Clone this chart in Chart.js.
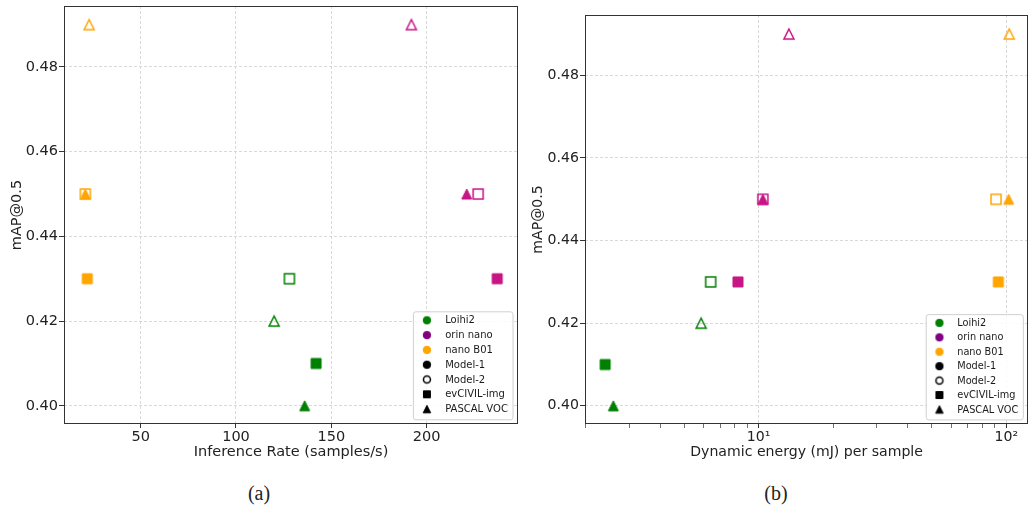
<!DOCTYPE html>
<html><head><meta charset="utf-8">
<script src="https://cdn.jsdelivr.net/npm/chart.js@4.4.1/dist/chart.umd.min.js"></script>
<style>
html,body{margin:0;padding:0;background:#fff;overflow:hidden;width:1028px;height:510px;}
#wrap{position:relative;width:1028px;height:510px;overflow:hidden;}
canvas{position:absolute;top:0;}
#c1{left:0;}
#c2{left:520px;}
.sub{position:absolute;top:481px;font-family:"Liberation Serif","DejaVu Serif",serif;font-size:20px;color:#222;transform:translateX(-50%);line-height:24px;}
</style></head><body>
<div id="wrap">
<canvas id="c1" width="522" height="470" style="width:522px;height:470px"></canvas>
<canvas id="c2" width="510" height="470" style="width:510px;height:470px"></canvas>
<div class="sub" style="left:259px">(a)</div>
<div class="sub" style="left:776px">(b)</div>
</div>
<script>
// ---- categories ----
const devices = ['Loihi2', 'orin nano', 'nano B01'];
const deviceColors = ['#008000', '#C71585', '#FFA500'];
const legendDeviceColors = ['#008000', '#800080', '#FFA500'];
const models = ['Model-1', 'Model-2'];
const dataNames = ['evCIVIL-img', 'PASCAL VOC'];

// ---- series (per device: Loihi2, orin nano, nano B01) ----
const rateM1Ev  = [142, 237, 22];
const rateM1Voc = [136, 221, 21];
const rateM2Ev  = [128, 227, 21];
const rateM2Voc = [120, 192, 23];

const energyM1Ev  = [2.40, 8.25, 92.9];
const energyM1Voc = [2.59, 10.4, 102.2];
const energyM2Ev  = [6.4, 10.4, 90.9];
const energyM2Voc = [5.86, 13.25, 102.8];

const mapM1Ev  = [0.41, 0.43, 0.43];
const mapM1Voc = [0.40, 0.45, 0.45];
const mapM2Ev  = [0.43, 0.45, 0.45];
const mapM2Voc = [0.42, 0.49, 0.49];

// ---- ticks ----
const rateTicks = [50, 100, 150, 200];
const mapTicks = [0.40, 0.42, 0.44, 0.46, 0.48];
const energyTicks = [2,3,4,5,6,7,8,9,10,20,30,40,50,60,70,80,90,100];
const energyMajorTicks = [10, 100];
const energyMajorLabels = ['10\u00B9', '10\u00B2'];

function marker(shape, color, filled, size, lw) {
  const S = 20, c = document.createElement('canvas');
  c.width = S; c.height = S;
  const g = c.getContext('2d');
  const h = size / 2, m = S / 2;
  g.beginPath();
  if (shape === 'square') g.rect(m - h, m - h, size, size);
  else if (shape === 'triangle') { g.moveTo(m, m - h); g.lineTo(m + h, m + h); g.lineTo(m - h, m + h); g.closePath(); }
  else g.arc(m, m, h, 0, Math.PI * 2);
  g.lineJoin = 'miter'; g.lineWidth = lw; g.strokeStyle = color;
  if (filled) { g.fillStyle = color; g.fill(); }
  g.stroke();
  return c;
}

function buildDatasets(xs, ys) {
  const out = [];
  devices.forEach((dev, d) => {
    models.forEach((mod, mi) => {
      dataNames.forEach((dn, di) => {
        const shape = di === 0 ? 'square' : 'triangle';
        const filled = mi === 0;
        out.push({
          label: dev + ' ' + mod + ' ' + dn,
          data: [{ x: xs[mi][di][d], y: ys[mi][di][d] }],
          pointStyle: marker(shape, deviceColors[d], filled, 10, filled ? 1 : 1.5),
          pointRadius: 6,
          showLine: false
        });
      });
    });
  });
  return out;
}

const framePlugin = {
  id: 'frame',
  afterDatasetsDraw(chart) {
    const a = chart.chartArea, ctx = chart.ctx;
    ctx.save();
    ctx.strokeStyle = '#333'; ctx.lineWidth = 1;
    const l = Math.round(a.left) + 0.5, t = Math.round(a.top) + 0.5;
    const r = Math.round(a.right) - 0.5, b = Math.round(a.bottom) - 0.5;
    ctx.strokeRect(l, t, r - l, b - t);
    ctx.restore();
  }
};

const legendPlugin = {
  id: 'inlegend',
  afterDraw(chart, args, o) {
    const s = o.scale || 1;
    const a = chart.chartArea, ctx = chart.ctx;
    const w = 99.6 * s, h = 108 * s;
    const x0 = a.right - 5.5 * s - w, y0 = a.bottom - 4.7 * s - h;
    ctx.save();
    ctx.beginPath();
    if (ctx.roundRect) ctx.roundRect(x0 + 0.5, y0 + 0.5, w, h, 2.5); else ctx.rect(x0 + 0.5, y0 + 0.5, w, h);
    ctx.fillStyle = 'rgba(255,255,255,0.85)'; ctx.fill();
    ctx.strokeStyle = '#d0d0d0'; ctx.lineWidth = 1; ctx.stroke();
    const items = [];
    devices.forEach((d, i) => items.push([d, marker('circle', legendDeviceColors[i], true, 7.5, 1)]));
    items.push([models[0], marker('circle', '#000', true, 7.5, 1)]);
    items.push([models[1], marker('circle', '#000', false, 7, 1.5)]);
    items.push([dataNames[0], marker('square', '#000', true, 7, 1)]);
    items.push([dataNames[1], marker('triangle', '#000', true, 7.5, 1)]);
    ctx.font = (10 * s) + 'px "DejaVu Sans"';
    ctx.fillStyle = '#1a1a1a'; ctx.textBaseline = 'middle'; ctx.textAlign = 'left';
    items.forEach((it, i) => {
      const cy = y0 + 9 * s + i * 14.8 * s;
      const mx = x0 + 14 * s;
      ctx.drawImage(it[1], mx - 10, cy - 10);
      ctx.fillText(it[0], x0 + 32.3 * s, cy + 0.5);
    });
    ctx.restore();
  }
};

function makeChart(id, cfg) {
  const fs = cfg.fontSize;
  const font = { family: 'DejaVu Sans', size: fs };
  const gridColor = '#cfcfcf';
  return new Chart(document.getElementById(id), {
    type: 'scatter',
    data: { datasets: cfg.datasets },
    options: {
      responsive: false, animation: false, events: [],
      layout: { padding: cfg.padding, autoPadding: false },
      plugins: { legend: { display: false }, tooltip: { enabled: false }, inlegend: { scale: cfg.legendScale } },
      scales: {
        x: {
          type: cfg.xType, min: cfg.xMin, max: cfg.xMax,
          afterBuildTicks: s => { s.ticks = cfg.xTicks.map(v => ({ value: v, major: cfg.xMajor(v) })); },
          afterFit: s => { s.height = 46; s.paddingLeft = 0; s.paddingRight = 0; },
          grid: {
            color: c => (c.tick && cfg.xMajor(c.tick.value)) ? gridColor : 'rgba(0,0,0,0)',
            lineWidth: 0.8, tickLength: 4, tickColor: '#333',
            tickWidth: c => (c.tick && cfg.xMajor(c.tick.value)) ? 1 : 0.7,
            tickBorderDash: []
          },
          border: { display: false, dash: [3, 2] },
          ticks: { font, color: '#222', padding: 1, maxRotation: 0, autoSkip: false, callback: cfg.xLabel },
          title: { display: true, text: cfg.xTitle, font, color: '#222', padding: { top: 0, bottom: 9 } }
        },
        y: {
          type: 'linear', min: cfg.yMin, max: cfg.yMax,
          afterBuildTicks: s => { s.ticks = mapTicks.map(v => ({ value: v })); },
          afterFit: s => { s.width = cfg.yWidth; s.paddingTop = 0; s.paddingBottom = 0; },
          grid: { color: gridColor, lineWidth: 0.8, tickLength: 5, tickColor: '#333', tickWidth: 1, tickBorderDash: [] },
          border: { display: false, dash: [3, 2] },
          ticks: { font, color: '#222', padding: 1, autoSkip: false, callback: v => Number(v).toFixed(2) },
          title: { display: true, text: 'mAP@0.5', font, color: '#222', padding: { top: cfg.yTitlePad, bottom: 0 } }
        }
      }
    },
    plugins: [framePlugin, legendPlugin]
  });
}

makeChart('c1', {
  fontSize: 14.5,
  datasets: buildDatasets([[rateM1Ev, rateM1Voc], [rateM2Ev, rateM2Voc]], [[mapM1Ev, mapM1Voc], [mapM2Ev, mapM2Voc]]),
  padding: { top: 6, right: 4, left: 0, bottom: 0 },
  xType: 'linear', xMin: 9.8, xMax: 247.9,
  xTicks: rateTicks, xMajor: v => true, xLabel: v => String(v),
  xTitle: 'Inference Rate (samples/s)',
  yMin: 0.3957, yMax: 0.4944, yWidth: 64, yTitlePad: 9, legendScale: 1
});

makeChart('c2', {
  fontSize: 14.1,
  datasets: buildDatasets([[energyM1Ev, energyM1Voc], [energyM2Ev, energyM2Voc]], [[mapM1Ev, mapM1Voc], [mapM2Ev, mapM2Voc]]),
  padding: { top: 15, right: 1.8, left: 0, bottom: 0 },
  xType: 'logarithmic', xMin: 1.99, xMax: 122.6,
  xTicks: energyTicks, xMajor: v => energyMajorTicks.includes(v),
  xLabel: v => { const i = energyMajorTicks.indexOf(v); return i >= 0 ? energyMajorLabels[i] : ''; },
  xTitle: 'Dynamic energy (mJ) per sample',
  yMin: 0.3956, yMax: 0.4946, yWidth: 65, yTitlePad: 10, legendScale: 0.975
});
</script>
</body></html>
